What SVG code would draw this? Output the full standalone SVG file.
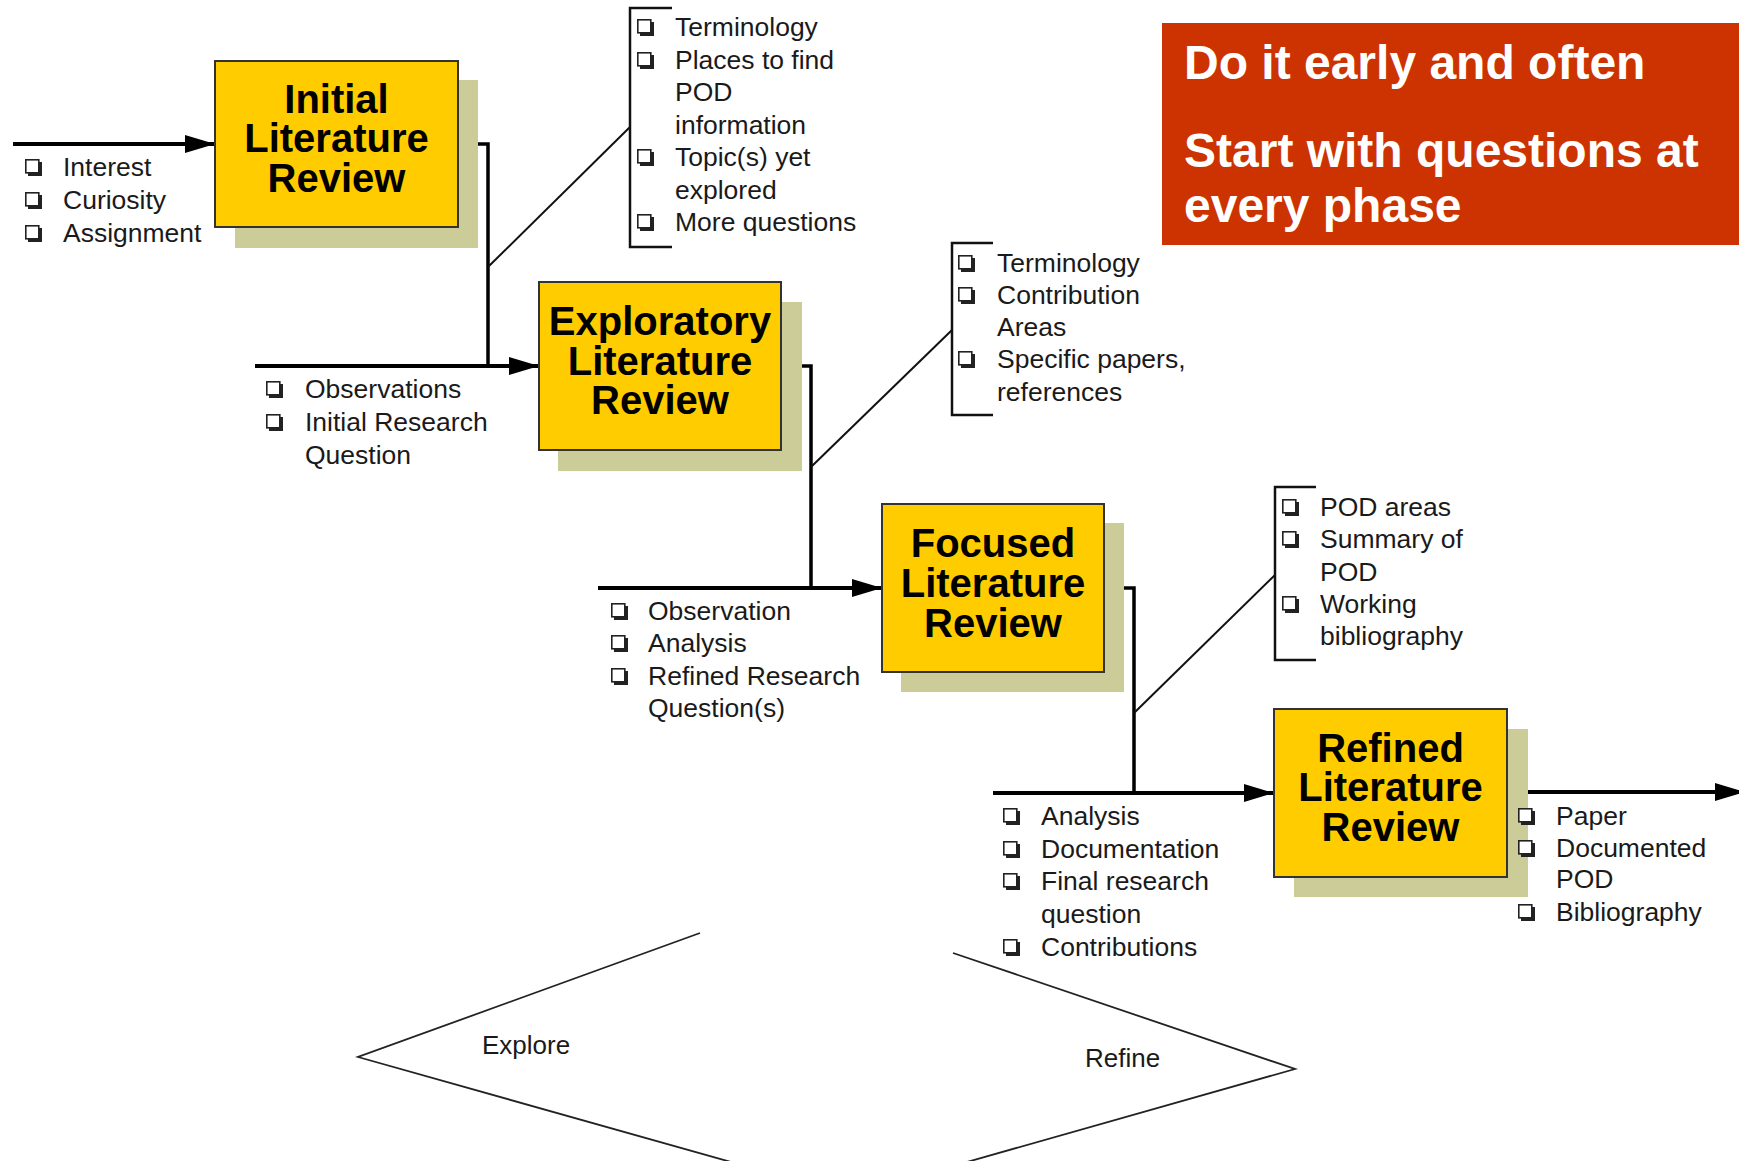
<svg xmlns="http://www.w3.org/2000/svg" xmlns:xlink="http://www.w3.org/1999/xlink" width="1739" height="1161" viewBox="0 0 1739 1161">
<style>
.t{font-family:"Liberation Sans",Arial,sans-serif;font-size:26.5px;fill:#1a1a1a}
.lb{font-family:"Liberation Sans",Arial,sans-serif;font-size:26px;fill:#1a1a1a}
.b{font-family:"Liberation Sans",Arial,sans-serif;font-weight:bold;font-size:40px;fill:#000;text-anchor:middle}
.h{font-family:"Liberation Sans",Arial,sans-serif;font-weight:bold;font-size:48px;fill:#fff}
.box{fill:#FFCC00;stroke:#333;stroke-width:2}
.sh{fill:#CCCC99}
.main{fill:none;stroke:#000;stroke-width:4}
.elb{fill:none;stroke:#000;stroke-width:3.5}
.thin{fill:none;stroke:#111;stroke-width:2}
.br{fill:none;stroke:#111;stroke-width:2.5}
.out{fill:none;stroke:#222;stroke-width:1.8}
</style>
<defs>
<marker id="ah" markerUnits="userSpaceOnUse" markerWidth="30" markerHeight="20" refX="30" refY="9" orient="auto" viewBox="0 0 30 18">
<path d="M0,0 L30,9 L0,18 z" fill="#000"/>
</marker>
<g id="cb"><rect x="3" y="3" width="14" height="14" fill="#222"/><rect x="0.8" y="0.8" width="13" height="13" fill="#fff" stroke="#222" stroke-width="1.6"/></g>
</defs>
<rect width="1739" height="1161" fill="#fff"/>

<g id="connectors">
<line class="main" x1="13" y1="144" x2="215" y2="144" marker-end="url(#ah)"/>
<line class="main" x1="255" y1="366" x2="539" y2="366" marker-end="url(#ah)"/>
<line class="main" x1="598" y1="588" x2="882" y2="588" marker-end="url(#ah)"/>
<line class="main" x1="993" y1="793" x2="1274" y2="793" marker-end="url(#ah)"/>
<line class="main" x1="1507" y1="792" x2="1745" y2="792" marker-end="url(#ah)"/>
<path class="elb" d="M458,144 H488 V366"/>
<path class="elb" d="M781,366 H811 V588"/>
<path class="elb" d="M1104,588 H1134 V793"/>
<line class="thin" x1="488" y1="267" x2="630" y2="127"/>
<line class="thin" x1="811" y1="467" x2="952" y2="330"/>
<line class="thin" x1="1134" y1="713" x2="1275" y2="575"/>
</g>

<g id="box-initial">
<rect class="sh" x="235" y="80" width="243" height="168"/>
<rect class="box" x="215" y="61" width="243" height="166"/>
<text class="b"><tspan x="336.5" y="113">Initial</tspan><tspan x="336.5" y="152">Literature</tspan><tspan x="336.5" y="192">Review</tspan></text>
</g>

<g id="box-exploratory">
<rect class="sh" x="558" y="302" width="244" height="169"/>
<rect class="box" x="539" y="282" width="242" height="168"/>
<text class="b"><tspan x="660" y="335">Exploratory</tspan><tspan x="660" y="375">Literature</tspan><tspan x="660" y="414">Review</tspan></text>
</g>

<g id="box-focused">
<rect class="sh" x="901" y="523" width="223" height="169"/>
<rect class="box" x="882" y="504" width="222" height="168"/>
<text class="b"><tspan x="993" y="557">Focused</tspan><tspan x="993" y="597">Literature</tspan><tspan x="993" y="637">Review</tspan></text>
</g>

<g id="box-refined">
<rect class="sh" x="1294" y="729" width="234" height="168"/>
<rect class="box" x="1274" y="709" width="233" height="168"/>
<text class="b"><tspan x="1390.5" y="762">Refined</tspan><tspan x="1390.5" y="801">Literature</tspan><tspan x="1390.5" y="841">Review</tspan></text>
</g>

<g id="inputs-initial">
<use xlink:href="#cb" x="25" y="159"/>
<use xlink:href="#cb" x="25" y="192"/>
<use xlink:href="#cb" x="25" y="225"/>
<text class="t" x="63" y="176">Interest</text>
<text class="t" x="63" y="209">Curiosity</text>
<text class="t" x="63" y="241.5">Assignment</text>
</g>

<g id="outputs-initial">
<path class="br" d="M672,8 H630 V247 H672"/>
<use xlink:href="#cb" x="637" y="19"/>
<use xlink:href="#cb" x="637" y="52"/>
<use xlink:href="#cb" x="637" y="149"/>
<use xlink:href="#cb" x="637" y="214"/>
<text class="t" x="675" y="36">Terminology</text>
<text class="t" x="675" y="68.5">Places to find</text>
<text class="t" x="675" y="101">POD</text>
<text class="t" x="675" y="133.5">information</text>
<text class="t" x="675" y="166">Topic(s) yet</text>
<text class="t" x="675" y="198.5">explored</text>
<text class="t" x="675" y="231">More questions</text>
</g>

<g id="inputs-exploratory">
<use xlink:href="#cb" x="266" y="381"/>
<use xlink:href="#cb" x="266" y="414"/>
<text class="t" x="305" y="398">Observations</text>
<text class="t" x="305" y="431">Initial Research</text>
<text class="t" x="305" y="463.5">Question</text>
</g>

<g id="outputs-exploratory">
<path class="br" d="M993,243 H952 V415 H993"/>
<use xlink:href="#cb" x="958" y="255"/>
<use xlink:href="#cb" x="958" y="287"/>
<use xlink:href="#cb" x="958" y="351"/>
<text class="t" x="997" y="272">Terminology</text>
<text class="t" x="997" y="304">Contribution</text>
<text class="t" x="997" y="336">Areas</text>
<text class="t" x="997" y="368">Specific papers,</text>
<text class="t" x="997" y="401">references</text>
</g>

<g id="inputs-focused">
<use xlink:href="#cb" x="611" y="603"/>
<use xlink:href="#cb" x="611" y="635"/>
<use xlink:href="#cb" x="611" y="668"/>
<text class="t" x="648" y="620">Observation</text>
<text class="t" x="648" y="652">Analysis</text>
<text class="t" x="648" y="685">Refined Research</text>
<text class="t" x="648" y="717">Question(s)</text>
</g>

<g id="outputs-focused">
<path class="br" d="M1316,487 H1275 V660 H1316"/>
<use xlink:href="#cb" x="1282" y="499"/>
<use xlink:href="#cb" x="1282" y="531"/>
<use xlink:href="#cb" x="1282" y="596"/>
<text class="t" x="1320" y="516">POD areas</text>
<text class="t" x="1320" y="548">Summary of</text>
<text class="t" x="1320" y="580.5">POD</text>
<text class="t" x="1320" y="613">Working</text>
<text class="t" x="1320" y="645">bibliography</text>
</g>

<g id="inputs-refined">
<use xlink:href="#cb" x="1003" y="808"/>
<use xlink:href="#cb" x="1003" y="841"/>
<use xlink:href="#cb" x="1003" y="873"/>
<use xlink:href="#cb" x="1003" y="939"/>
<text class="t" x="1041" y="825">Analysis</text>
<text class="t" x="1041" y="857.7">Documentation</text>
<text class="t" x="1041" y="890.4">Final research</text>
<text class="t" x="1041" y="923">question</text>
<text class="t" x="1041" y="955.7">Contributions</text>
</g>

<g id="outputs-refined">
<use xlink:href="#cb" x="1518" y="808"/>
<use xlink:href="#cb" x="1518" y="840"/>
<use xlink:href="#cb" x="1518" y="904"/>
<text class="t" x="1556" y="825">Paper</text>
<text class="t" x="1556" y="857">Documented</text>
<text class="t" x="1556" y="888">POD</text>
<text class="t" x="1556" y="921">Bibliography</text>
</g>

<g id="callout">
<rect x="1162" y="23" width="580" height="222" fill="#CC3300"/>
<text class="h" x="1184" y="79">Do it early and often</text>
<text class="h" x="1184" y="167">Start with questions at</text>
<text class="h" x="1184" y="222">every phase</text>
</g>

<g id="explore">
<polyline class="out" points="700,933 358,1057 731,1162"/>
<text class="lb" x="482" y="1054">Explore</text>
</g>

<g id="refine">
<polyline class="out" points="953,953 1295,1069 967,1162"/>
<text class="lb" x="1085" y="1067">Refine</text>
</g>
</svg>
